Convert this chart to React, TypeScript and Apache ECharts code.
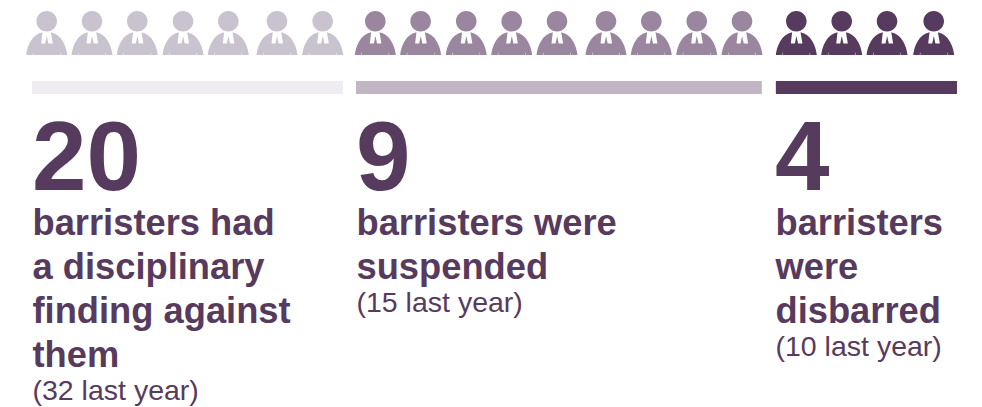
import React, { useEffect, useRef } from "react";
import * as echarts from "echarts";

// Seat positions of the figures along the shared horizontal scale
const cautionedSeats = [0.324, 1.322, 2.319, 3.326, 4.324, 5.396, 6.403];
const suspendedSeats = [7.562, 8.56, 9.565, 10.566, 11.564, 12.643, 13.641, 14.641, 15.639];
const disbarredSeats = [16.835, 17.835, 18.833, 19.861];

// Band lengths and the gaps between them, in the same units
const cautionedBand = [6.85];
const gapOne = [0.286];
const suspendedBand = [8.94];
const gapTwo = [0.308];
const disbarredBand = [3.99];

const headlineNumbers = ["20", "9", "4"];
const cautionedLines = ["barristers had", "a disciplinary", "finding against", "them"];
const suspendedLines = ["barristers were", "suspended"];
const disbarredLines = ["barristers", "were", "disbarred"];
const lastYearNotes = ["(32 last year)", "(15 last year)", "(10 last year)"];

const INK = "#573b5e";
const FONT = '"Liberation Sans", Arial, sans-serif';

// Barrister figure: head, then gown with the two collar bands cut out of the neckline
const FIGURE =
  "path://M20.5,0 C26.2,0 30.8,4.6 30.8,10.3 C30.8,16 26.2,20.6 20.5,20.6 C14.8,20.6 10.2,16 10.2,10.3 C10.2,4.6 14.8,0 20.5,0 Z " +
  "M0,44 C1,35 5.5,23.5 16.3,21.2 L15,32.4 L19,32.4 L20.6,25 L22.2,32.4 L26.6,32.4 L24.7,21.2 C35.5,23.5 40,35 41,44 " +
  "L34.4,44 L34.1,40.5 L33.8,44 L7.2,44 L6.9,40.5 L6.6,44 Z";

function figures(seats: number[], color: string) {
  return {
    type: "scatter",
    xAxisIndex: 0,
    yAxisIndex: 0,
    data: seats.map((s) => [s, "people"]),
    symbol: FIGURE,
    symbolSize: [41, 44],
    itemStyle: { color, opacity: 1 },
    clip: false,
    silent: true,
  };
}

function band(values: number[], color: string) {
  return {
    type: "bar",
    xAxisIndex: 1,
    yAxisIndex: 1,
    stack: "bands",
    data: values,
    barWidth: "100%",
    itemStyle: { color },
    silent: true,
  };
}

function textBlock(left: number, head: string, lines: string[], note: string) {
  const items: any[] = [
    {
      type: "text",
      x: left - 1,
      y: 156,
      style: { text: head, font: `bold 98px ${FONT}`, fill: INK, textVerticalAlign: "middle" },
    },
  ];
  lines.forEach((line, i) => {
    items.push({
      type: "text",
      x: left - 0.5,
      y: 222 + i * 44,
      style: { text: line, font: `bold 36.3px ${FONT}`, fill: INK, textVerticalAlign: "middle" },
    });
  });
  items.push({
    type: "text",
    x: left - 0.5,
    y: 222 + (lines.length - 1) * 44 + 36,
    style: { text: note, font: `28.5px ${FONT}`, fill: INK, textVerticalAlign: "middle" },
  });
  return items;
}

export default function App() {
  const ref = useRef<HTMLDivElement>(null);
  useEffect(() => {
    if (!ref.current) return;
    const chart = echarts.init(ref.current, undefined, { renderer: "svg" });
    const hiddenValue = { type: "value", min: 0, max: 20.374, show: false };
    const hiddenCategory = { type: "category", show: false };
    chart.setOption({
      animation: false,
      backgroundColor: "#ffffff",
      grid: [
        { left: 32, width: 925, top: 11, height: 44 },
        { left: 32, width: 925, top: 81, height: 13 },
      ],
      xAxis: [
        { ...hiddenValue, gridIndex: 0 },
        { ...hiddenValue, gridIndex: 1 },
      ],
      yAxis: [
        { ...hiddenCategory, gridIndex: 0, data: ["people"] },
        { ...hiddenCategory, gridIndex: 1, data: ["bands"] },
      ],
      series: [
        figures(cautionedSeats, "#c9c2cf"),
        figures(suspendedSeats, "#9a869e"),
        figures(disbarredSeats, INK),
        band(cautionedBand, "#efedf1"),
        band(gapOne, "transparent"),
        band(suspendedBand, "#c2b6c5"),
        band(gapTwo, "transparent"),
        band(disbarredBand, INK),
      ],
      graphic: [
        ...textBlock(33, headlineNumbers[0], cautionedLines, lastYearNotes[0]),
        ...textBlock(357, headlineNumbers[1], suspendedLines, lastYearNotes[1]),
        ...textBlock(776, headlineNumbers[2], disbarredLines, lastYearNotes[2]),
      ],
    });
    return () => chart.dispose();
  }, []);
  return (
    <div
      ref={ref}
      style={{ position: "absolute", left: 0, top: 0, width: 982, height: 407 }}
    />
  );
}
